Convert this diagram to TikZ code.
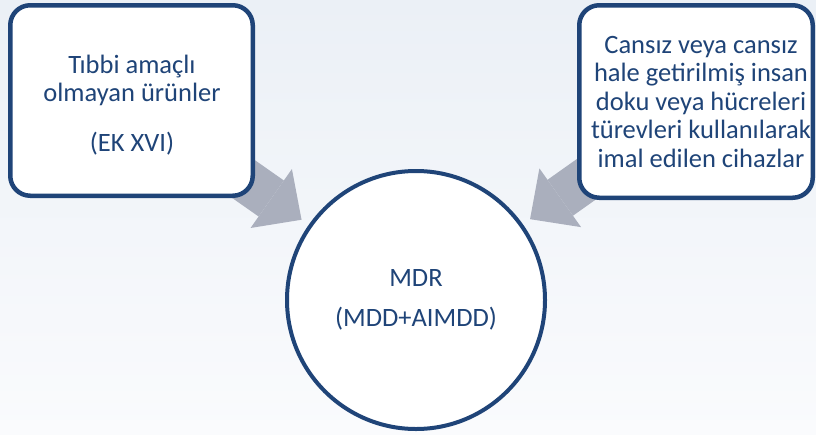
\documentclass[tikz,border=0pt]{standalone}
\usepackage{fontspec}
\setmainfont{Carlito}
\usetikzlibrary{arrows.meta,backgrounds}
\definecolor{navy}{HTML}{1F4478}
\definecolor{agray}{HTML}{AAAFBD}
\definecolor{bgtop}{HTML}{EBF0F6}
\definecolor{bgbot}{HTML}{FAFBFD}
\begin{document}
\begin{tikzpicture}[x=1pt,y=-1pt,
  box/.style={draw=navy, line width=4.5pt, fill=white, rounded corners=20pt, inner sep=0pt},
  txt/.style={text=navy, align=center, font=\fontsize{26.5pt}{28.5pt}\selectfont, inner sep=0pt},
  bigarrow/.style={draw=agray, line width=44pt, -{Triangle[width=72pt,length=37pt,line width=0pt]}, shorten >=8.8pt}]
\begin{scope}[on background layer]
\fill[top color=bgtop, bottom color=bgbot] (0,0) rectangle (816,434);
\end{scope}
\useasboundingbox (0,0) rectangle (816,434);
\node[box, minimum width=242.5pt, minimum height=190.5pt] (L) at (131.5,100.5) {};
\node[box, minimum width=233.5pt, minimum height=192.5pt] (R) at (696,101.5) {};
\node[txt, circle, draw=navy, line width=4pt, fill=white, minimum size=258pt] (C) at (416,300) {MDR\\[11.5pt](MDD+AIMDD)};
\node[txt] (LT) at (132,105) {Tıbbi amaçlı\\olmayan ürünler\\[21.5pt](EK XVI)};
\node[txt] (RT) at (701,101.5) {Cansız veya cansız\\hale getirilmiş insan\\doku veya hücreleri\\türevleri kullanılarak\\imal edilen cihazlar};
\begin{scope}[on background layer]
\draw[bigarrow] (L.center) -- (C);
\draw[bigarrow] (R.center) -- (C);
\end{scope}
\end{tikzpicture}
\end{document}
